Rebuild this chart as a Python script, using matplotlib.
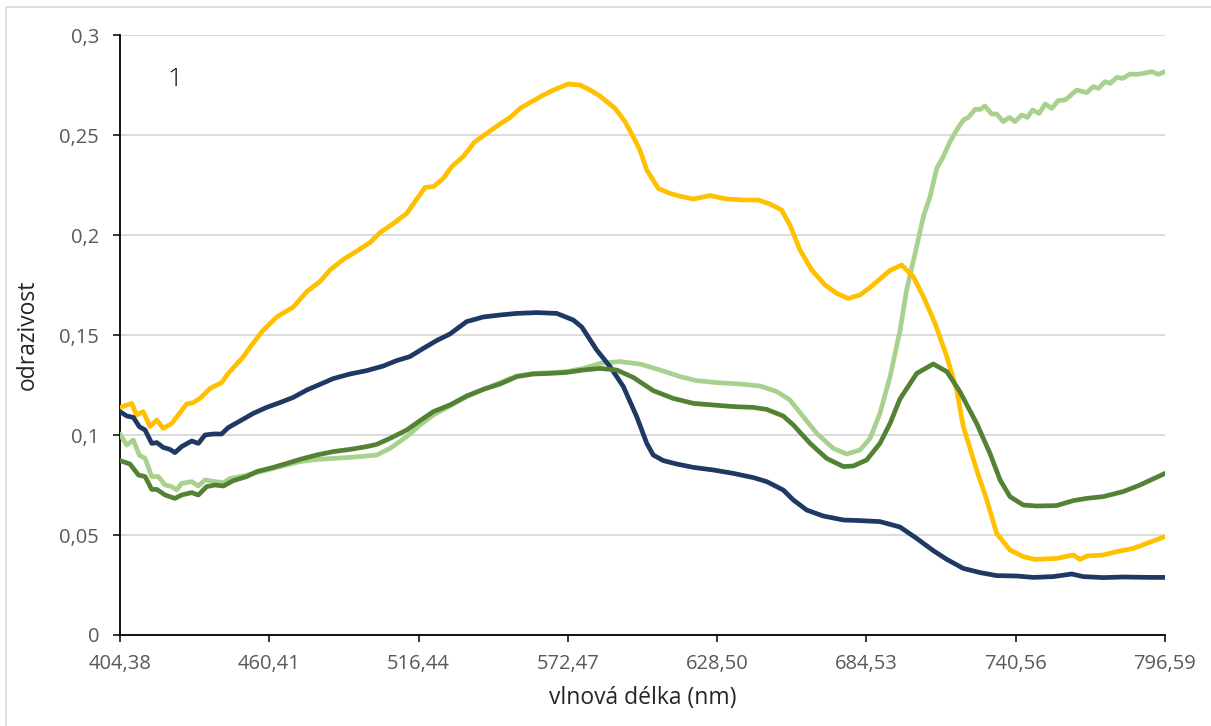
import matplotlib
matplotlib.use("Agg")
import matplotlib.pyplot as plt
from matplotlib.lines import Line2D
from matplotlib.ticker import FixedLocator, FuncFormatter

# Reflectance spectra (wavelength in nm, reflectance 0-1)
wl_yellow = [404.38, 408.8, 410.6, 413.1, 415.6, 418.2, 420.6, 423.8, 429.4, 431.9,
             434.4, 438.2, 442.5, 445.0, 450.7, 453.8, 458.2, 463.2, 469.4, 474.5,
             479.4, 483.2, 488.2, 491.9, 498.2, 502.0, 507.0, 512.0, 515.1, 518.9,
             522.0, 525.7, 528.9, 533.2, 537.6, 542.0, 547.0, 550.8, 554.5, 558.9,
             563.3, 567.6, 572.6, 577.0, 580.8, 584.5, 590.2, 593.9, 597.0, 599.5,
             602.1, 606.4, 610.8, 615.2, 619.6, 625.8, 632.1, 638.3, 644.0, 648.3,
             652.7, 655.8, 659.6, 664.0, 669.0, 673.4, 677.7, 682.1, 685.9, 689.6,
             693.4, 697.8, 702.1, 705.9, 710.3, 714.7, 718.4, 720.9, 725.9, 729.7,
             733.4, 738.4, 743.4, 747.8, 755.9, 762.2, 764.7, 767.2, 773.4, 778.5,
             784.7, 789.7, 796.59]
refl_yellow = [0.1138, 0.1158, 0.1100, 0.1117, 0.1042, 0.1075, 0.1033, 0.1058, 0.1155, 0.1162,
               0.1183, 0.1233, 0.1262, 0.1308, 0.1392, 0.1450, 0.1525, 0.1590, 0.1640, 0.1717,
               0.1767, 0.1825, 0.1878, 0.1908, 0.1962, 0.2012, 0.2058, 0.2108, 0.2167, 0.2238,
               0.2242, 0.2283, 0.2342, 0.2392, 0.2467, 0.2508, 0.2555, 0.2588, 0.2633, 0.2667,
               0.2700, 0.2728, 0.2755, 0.2750, 0.2725, 0.2695, 0.2633, 0.2567, 0.2492, 0.2425,
               0.2325, 0.2233, 0.2208, 0.2192, 0.2180, 0.2197, 0.2180, 0.2175, 0.2175, 0.2155,
               0.2125, 0.2050, 0.1925, 0.1825, 0.1750, 0.1708, 0.1683, 0.1700, 0.1738, 0.1780,
               0.1823, 0.1850, 0.1792, 0.1692, 0.1558, 0.1392, 0.1225, 0.1042, 0.0825, 0.0675,
               0.0508, 0.0425, 0.0392, 0.0378, 0.0383, 0.0400, 0.0378, 0.0395, 0.0400, 0.0417,
               0.0433, 0.0458, 0.0492]

wl_navy = [404.38, 406.9, 409.4, 411.6, 413.8, 416.3, 418.2, 420.6, 423.1, 425.0,
           427.5, 431.3, 433.8, 436.3, 439.4, 442.5, 445.0, 449.4, 454.4, 459.4,
           464.4, 469.4, 474.5, 479.4, 484.4, 490.7, 497.0, 503.2, 508.2, 513.2,
           518.2, 523.2, 528.2, 534.5, 540.7, 547.0, 553.3, 560.8, 568.3, 574.5,
           577.7, 583.3, 588.3, 593.3, 598.3, 602.1, 604.5, 608.3, 613.3, 619.6,
           627.1, 634.6, 642.1, 647.1, 653.3, 657.1, 662.1, 668.3, 675.9, 682.1,
           689.6, 697.1, 703.4, 709.6, 714.7, 720.9, 727.2, 733.4, 740.9, 747.2,
           754.7, 761.6, 765.9, 773.4, 780.9, 791.0, 796.59]
refl_navy = [0.1117, 0.1095, 0.1088, 0.1042, 0.1025, 0.0958, 0.0962, 0.0938, 0.0928, 0.0912,
             0.0942, 0.0970, 0.0958, 0.1000, 0.1005, 0.1005, 0.1037, 0.1070, 0.1108, 0.1138,
             0.1162, 0.1188, 0.1225, 0.1253, 0.1282, 0.1305, 0.1322, 0.1345, 0.1372, 0.1392,
             0.1433, 0.1472, 0.1505, 0.1567, 0.1590, 0.1600, 0.1608, 0.1612, 0.1608, 0.1575,
             0.1540, 0.1425, 0.1342, 0.1242, 0.1092, 0.0958, 0.0900, 0.0872, 0.0855, 0.0838,
             0.0825, 0.0808, 0.0787, 0.0767, 0.0725, 0.0675, 0.0625, 0.0595, 0.0575, 0.0572,
             0.0567, 0.0540, 0.0483, 0.0422, 0.0378, 0.0333, 0.0312, 0.0297, 0.0295, 0.0288,
             0.0292, 0.0305, 0.0292, 0.0287, 0.0290, 0.0288, 0.0288]

wl_dark = [404.38, 408.1, 411.3, 413.8, 416.3, 418.2, 421.3, 425.0, 427.5, 431.3,
           433.8, 436.9, 440.0, 443.2, 446.9, 451.9, 455.7, 461.9, 467.0, 471.9,
           478.2, 484.4, 490.7, 497.0, 500.7, 505.7, 512.0, 517.0, 522.0, 528.2,
           534.5, 540.7, 547.0, 553.3, 559.5, 565.8, 572.0, 578.3, 584.5, 590.8,
           597.0, 604.5, 612.0, 619.6, 627.1, 634.6, 642.1, 647.1, 653.3, 657.1,
           663.4, 669.6, 675.9, 679.6, 684.6, 689.6, 693.4, 697.1, 703.4, 709.6,
           714.7, 719.6, 725.9, 730.9, 734.7, 738.4, 743.4, 748.4, 755.9, 762.2,
           767.2, 773.4, 780.9, 787.2, 796.59]
refl_dark = [0.0872, 0.0855, 0.0800, 0.0792, 0.0728, 0.0728, 0.0700, 0.0683, 0.0700, 0.0712,
             0.0700, 0.0742, 0.0750, 0.0745, 0.0772, 0.0792, 0.0817, 0.0838, 0.0858, 0.0878,
             0.0900, 0.0917, 0.0928, 0.0942, 0.0953, 0.0983, 0.1025, 0.1072, 0.1117, 0.1150,
             0.1195, 0.1228, 0.1255, 0.1292, 0.1305, 0.1308, 0.1313, 0.1325, 0.1333, 0.1325,
             0.1288, 0.1222, 0.1183, 0.1158, 0.1150, 0.1142, 0.1138, 0.1128, 0.1095, 0.1050,
             0.0958, 0.0883, 0.0842, 0.0845, 0.0875, 0.0958, 0.1058, 0.1180, 0.1308, 0.1355,
             0.1317, 0.1217, 0.1058, 0.0908, 0.0775, 0.0692, 0.0650, 0.0645, 0.0647, 0.0672,
             0.0683, 0.0692, 0.0717, 0.0750, 0.0808]

wl_light = [404.38, 406.9, 409.4, 411.6, 413.8, 416.3, 418.8, 421.3, 423.8, 425.7,
            427.5, 431.3, 433.8, 436.3, 440.0, 443.2, 445.7, 450.7, 455.7, 461.9,
            467.0, 471.9, 478.2, 484.4, 490.7, 497.0, 500.7, 505.7, 512.0, 517.0,
            522.0, 528.2, 534.5, 540.7, 547.0, 553.3, 559.5, 565.8, 572.0, 578.3,
            584.5, 592.0, 599.5, 607.1, 614.6, 620.8, 628.3, 637.1, 644.6, 650.9,
            655.8, 660.8, 665.9, 672.1, 677.1, 682.1, 685.9, 689.6, 693.4, 697.1,
            699.6, 702.8, 705.9, 708.4, 710.9, 713.4, 715.9, 718.4, 720.9, 722.8,
            725.3, 727.2, 729.0, 731.5, 733.4, 735.9, 738.2, 740.3, 742.8, 744.9,
            746.9, 749.4, 751.6, 754.1, 756.5, 759.1, 763.5, 767.2, 769.7, 771.6,
            774.1, 776.0, 778.5, 780.7, 783.5, 786.0, 788.4, 791.6, 794.1, 796.59]
refl_light = [0.1005, 0.0950, 0.0975, 0.0900, 0.0883, 0.0792, 0.0792, 0.0750, 0.0742, 0.0725,
              0.0758, 0.0767, 0.0745, 0.0775, 0.0767, 0.0762, 0.0783, 0.0795, 0.0812, 0.0833,
              0.0850, 0.0867, 0.0878, 0.0883, 0.0888, 0.0895, 0.0900, 0.0933, 0.0992, 0.1050,
              0.1100, 0.1145, 0.1192, 0.1228, 0.1262, 0.1295, 0.1308, 0.1312, 0.1317, 0.1333,
              0.1358, 0.1367, 0.1355, 0.1325, 0.1292, 0.1272, 0.1262, 0.1255, 0.1245, 0.1217,
              0.1175, 0.1092, 0.1008, 0.0933, 0.0905, 0.0925, 0.0983, 0.1108, 0.1292, 0.1520,
              0.1725, 0.1908, 0.2092, 0.2192, 0.2333, 0.2392, 0.2467, 0.2525, 0.2575, 0.2588,
              0.2628, 0.2628, 0.2645, 0.2605, 0.2605, 0.2567, 0.2588, 0.2567, 0.2600, 0.2588,
              0.2625, 0.2608, 0.2655, 0.2633, 0.2672, 0.2675, 0.2725, 0.2712, 0.2742, 0.2733,
              0.2767, 0.2758, 0.2788, 0.2783, 0.2805, 0.2803, 0.2808, 0.2817, 0.2803, 0.2817]

x_ticks = [404.38, 460.41, 516.44, 572.47, 628.50, 684.53, 740.56, 796.59]
y_ticks = [0, 0.05, 0.1, 0.15, 0.2, 0.25, 0.3]

plt.rcParams['font.family'] = ['Open Sans', 'DejaVu Sans']

fig = plt.figure(figsize=(12.11, 7.26), dpi=100)
ax = fig.add_axes([120 / 1211, 91 / 726, 1045 / 1211, 600 / 726])

series = [
    (wl_light, refl_light, '#A9D18E'),
    (wl_yellow, refl_yellow, '#FFC000'),
    (wl_navy, refl_navy, '#203864'),
    (wl_dark, refl_dark, '#548235'),
]
for wl, refl, color in series:
    ax.plot(wl, refl, color=color, lw=3.4, solid_joinstyle='round',
            solid_capstyle='round', zorder=3)

ax.set_xlim(x_ticks[0], x_ticks[-1])
ax.set_ylim(0, 0.3)

ax.xaxis.set_major_locator(FixedLocator(x_ticks))
ax.yaxis.set_major_locator(FixedLocator(y_ticks))
ax.xaxis.set_major_formatter(FuncFormatter(lambda v, p: f"{v:.2f}".replace('.', ',')))


def y_fmt(v, p):
    if abs(v) < 1e-9:
        return "0"
    s = f"{v:.2f}".rstrip('0')
    return s.replace('.', ',')


ax.yaxis.set_major_formatter(FuncFormatter(y_fmt))

ax.grid(axis='y', color='#D9D9D9', lw=1.3, zorder=0)
ax.set_axisbelow(True)
for s in ('top', 'right'):
    ax.spines[s].set_visible(False)
for s in ('left', 'bottom'):
    ax.spines[s].set_color('black')
    ax.spines[s].set_linewidth(1.3)

ax.tick_params(axis='both', direction='out', length=5, width=1.1, color='black',
               labelsize=14.5, labelcolor='#595959')
ax.tick_params(axis='y', pad=10)
ax.tick_params(axis='x', pad=9)

ax.set_xlabel('vlnová délka (nm)', fontsize=16.5, color='#262626', labelpad=8)
ax.set_ylabel('odrazivost', fontsize=16.5, color='#262626', labelpad=14)

ax.text(0.045, 0.925, '1', transform=ax.transAxes, fontsize=19, color='black',
        ha='left', va='center', fontweight='light')

# Chart frame
fig.add_artist(Line2D([6 / 1211, 6 / 1211, 1.0], [0.0, 1 - 7 / 726, 1 - 7 / 726],
                      transform=fig.transFigure, color='#D9D9D9', lw=1.2))

fig.savefig('out.png', dpi=100)
